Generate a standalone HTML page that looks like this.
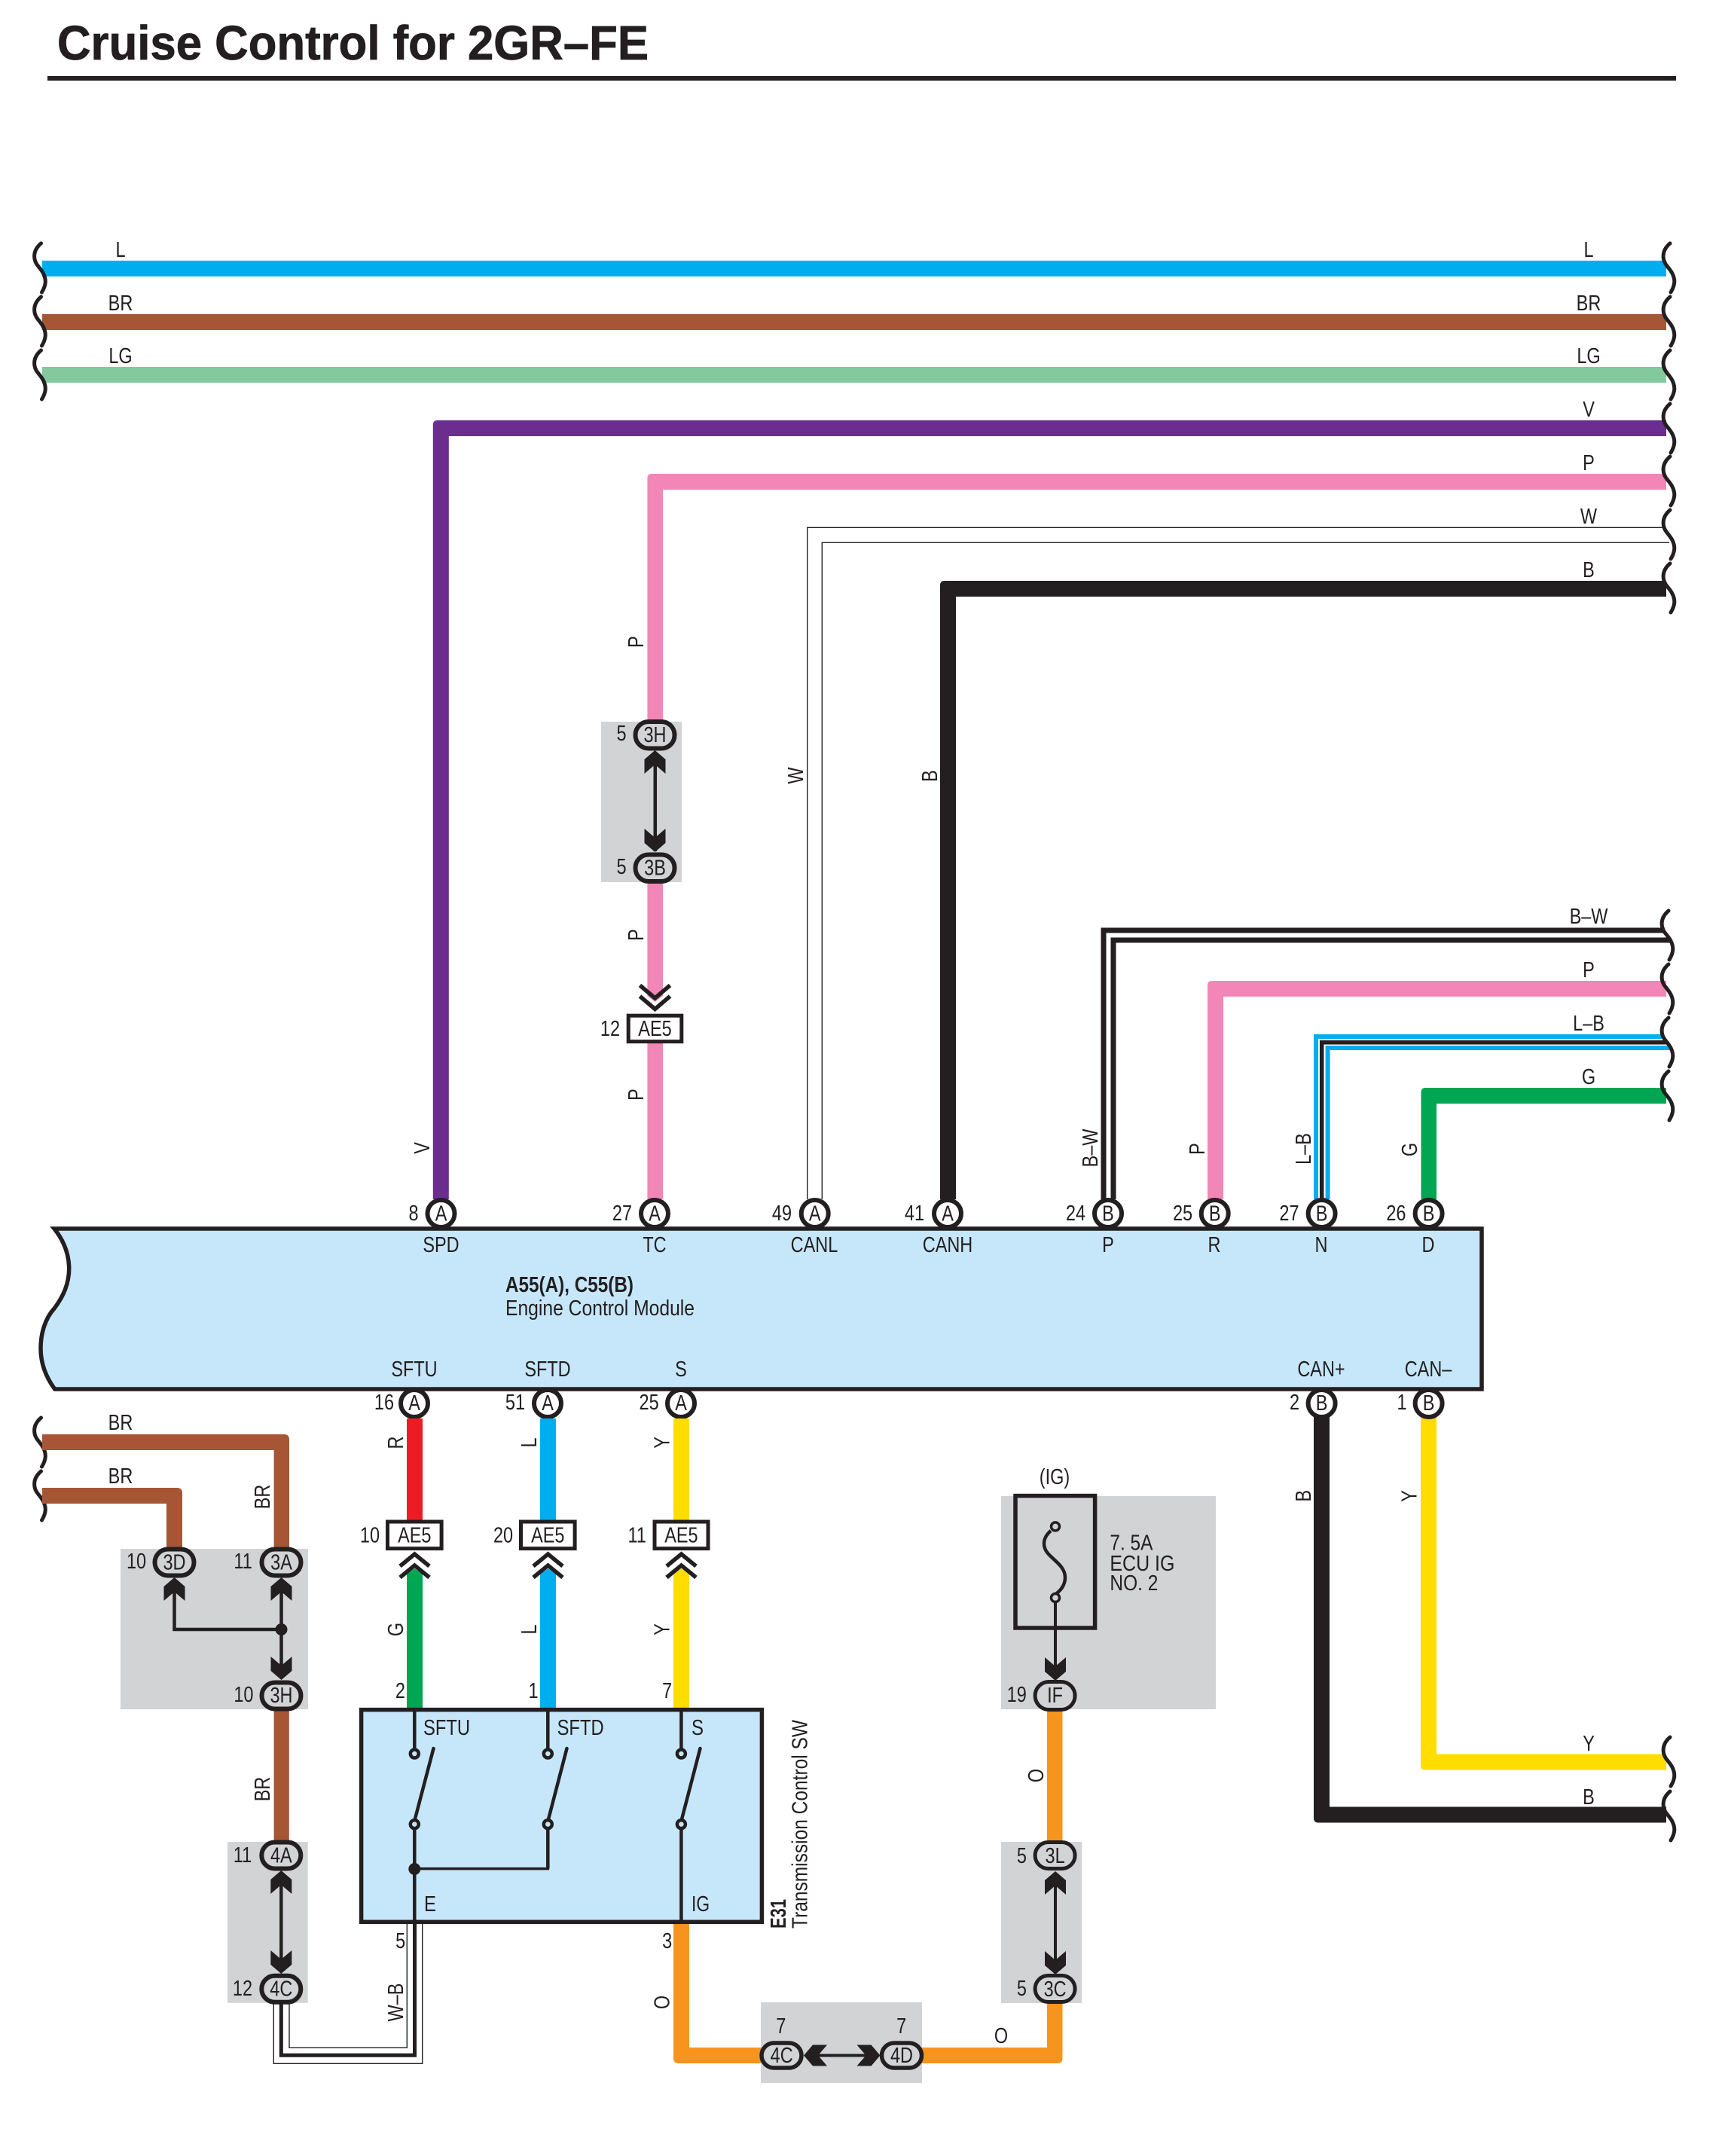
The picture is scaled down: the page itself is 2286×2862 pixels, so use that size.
<!DOCTYPE html>
<html><head><meta charset="utf-8"><title>Cruise Control for 2GR–FE</title>
<style>
html,body{margin:0;padding:0;background:#fff}
svg{display:block}
text{font-family:"Liberation Sans",sans-serif;font-size:29px;fill:#231f20;text-anchor:middle;transform-box:fill-box;transform-origin:center;transform:scaleX(.81)}
text.f{text-anchor:start;transform:none}
.o{fill:#d1d3d4;stroke:#231f20;stroke-width:6}
.c{fill:#fff;stroke:#231f20;stroke-width:6}
.r{fill:#fff;stroke:#231f20;stroke-width:5}
.ch{fill:none;stroke:#231f20;stroke-width:5.5}
.sq{fill:none;stroke:#231f20;stroke-width:5;stroke-linecap:round}
.ln{fill:none;stroke:#231f20}
.g{fill:#d1d3d4}
.ct{fill:#c6e7fa;stroke:#231f20;stroke-width:4.5}
</style></head><body>
<svg width="2286" height="2862" viewBox="0 0 2286 2862" xmlns="http://www.w3.org/2000/svg">
<defs>
<path id="s" d="M0 1C-7 7-10 14-8.5 22C-7 30-1 33 3 41C7 49 7 56 1 66"/>
<polygon id="a" points="0,0 14,12 14,31 0,19 -14,31 -14,12" fill="#231f20"/>
</defs>
<rect width="2286" height="2862" fill="#fff"/>

<!-- title -->
<text class="f" x="76" y="79" style="font-size:64px;font-weight:bold;stroke:#231f20;stroke-width:.8" textLength="785" lengthAdjust="spacingAndGlyphs">Cruise Control for 2GR–FE</text>
<rect x="63" y="101" width="2162" height="6" fill="#231f20"/>

<!-- top wires -->
<rect x="56" y="346" width="2156" height="21" fill="#00aeef"/>
<rect x="56" y="417" width="2156" height="21" fill="#a65535"/>
<rect x="56" y="487" width="2156" height="21" fill="#82c99d"/>
<path fill="#6c2d91" d="M574.8 1592V564Q574.8 558 580.8 558H2212V579H595.8V1592Z"/>
<path fill="#f287b7" d="M859.4 1322V635Q859.4 629 865.4 629H2212V650H880V1322L869.7 1330Z"/>
<rect x="859.4" y="1385" width="20.6" height="207" fill="#f287b7"/>
<path class="ln" stroke-width="1.4" d="M1071.7 1592V700.3H2207M1091.3 1592V720.3H2216"/>
<path fill="#231f20" d="M1248 1592V777Q1248 771 1254 771H2212V792H1269V1592Z"/>
<path class="ln" stroke-width="7" d="M1465 1592V1235H2210M1478 1592V1248H2217"/>
<path fill="#f287b7" d="M1603 1592V1308Q1603 1302 1609 1302H2212V1323H1624V1592Z"/>
<path fill="none" stroke="#00aeef" stroke-width="6" d="M1747 1592V1376H2209M1762.6 1592V1391H2216"/>
<path class="ln" stroke-width="5.5" d="M1754.7 1592V1383.7H2214"/>
<path fill="#00a651" d="M1886.5 1592V1450Q1886.5 1444 1892.5 1444H2212V1465H1907V1592Z"/>
<path fill="#231f20" d="M1744 1880V2413.5Q1744 2419.5 1750 2419.5H2212V2398.5H1765V1880Z"/>
<path fill="#ffdd00" d="M1886 1880V2343.5Q1886 2349.5 1892 2349.5H2212V2328.5H1907V1880Z"/>

<!-- squiggles left -->
<use href="#s" class="sq" x="54.5" y="322"/><use href="#s" class="sq" x="54.5" y="393"/><use href="#s" class="sq" x="54.5" y="464"/>
<use href="#s" class="sq" x="54.5" y="1881"/><use href="#s" class="sq" x="54.5" y="1952"/>
<!-- squiggles right -->
<use href="#s" class="sq" x="2217" y="322"/><use href="#s" class="sq" x="2217" y="393"/><use href="#s" class="sq" x="2217" y="464"/><use href="#s" class="sq" x="2217" y="535"/><use href="#s" class="sq" x="2217" y="605"/><use href="#s" class="sq" x="2217" y="676"/><use href="#s" class="sq" x="2217" y="747"/>
<use href="#s" class="sq" x="2215" y="1208"/><use href="#s" class="sq" x="2215" y="1279"/><use href="#s" class="sq" x="2215" y="1350"/><use href="#s" class="sq" x="2215" y="1421"/>
<use href="#s" class="sq" x="2217" y="2305"/><use href="#s" class="sq" x="2217" y="2377"/>

<!-- top wire labels -->
<text x="160" y="341">L</text><text x="160" y="412">BR</text><text x="160" y="482">LG</text>
<text x="2109" y="341">L</text><text x="2109" y="412">BR</text><text x="2109" y="482">LG</text>
<text x="2109" y="553">V</text><text x="2109" y="624">P</text><text x="2109" y="695">W</text><text x="2109" y="766">B</text>
<text x="2109" y="1226">B–W</text><text x="2109" y="1297">P</text><text x="2109" y="1368">L–B</text><text x="2109" y="1439">G</text>
<text x="2109" y="2324">Y</text><text x="2109" y="2395">B</text>

<!-- rotated labels upper -->
<g transform="translate(570,1524) rotate(-90)"><text>V</text></g>
<g transform="translate(854,852) rotate(-90)"><text>P</text></g>
<g transform="translate(854,1241) rotate(-90)"><text>P</text></g>
<g transform="translate(854,1453) rotate(-90)"><text>P</text></g>
<g transform="translate(1066,1029.5) rotate(-90)"><text>W</text></g>
<g transform="translate(1244,1030) rotate(-90)"><text>B</text></g>
<g transform="translate(1457,1524) rotate(-90)"><text>B–W</text></g>
<g transform="translate(1599,1525) rotate(-90)"><text>P</text></g>
<g transform="translate(1740,1525) rotate(-90)"><text>L–B</text></g>
<g transform="translate(1881,1526) rotate(-90)"><text>G</text></g>

<!-- 3H/3B splice -->
<rect class="g" x="798" y="958" width="107" height="213"/>
<rect x="867.5" y="1000" width="4.5" height="130" style="fill:#231f20"/>
<use href="#a" x="869.5" y="996"/>
<use href="#a" transform="translate(869.5,1131) scale(1,-1)"/>
<rect class="o" x="843.5" y="958" width="52" height="35.5" rx="17.5"/>
<rect class="o" x="843.5" y="1134.5" width="52" height="35.5" rx="17.5"/>
<text x="869.5" y="985">3H</text><text x="869.5" y="1161.5">3B</text>
<text x="825" y="983">5</text><text x="825" y="1160">5</text>
<!-- AE5 upper -->
<path class="ch" d="M849.5 1308L869.5 1325L889.5 1308M849.5 1322.5L869.5 1339.5L889.5 1322.5"/>
<rect class="r" x="834.2" y="1348.2" width="70.6" height="34.4"/>
<text x="869.5" y="1375">AE5</text><text x="810" y="1375">12</text>

<!-- ECM -->
<path fill="#c6e7fa" stroke="#231f20" stroke-width="5.5" stroke-linejoin="miter" d="M72 1631C84 1646 91 1662 91.7 1682C92 1704 84 1721 72 1737C60 1750 54 1770 54 1790C54 1810 61 1828 72.7 1844H1967V1631Z"/>
<circle class="c" cx="585.5" cy="1611" r="18"/><circle class="c" cx="869" cy="1611" r="18"/><circle class="c" cx="1081.7" cy="1611" r="18"/><circle class="c" cx="1258" cy="1611" r="18"/>
<circle class="c" cx="1471" cy="1611" r="18"/><circle class="c" cx="1612.7" cy="1611" r="18"/><circle class="c" cx="1754.6" cy="1611" r="18"/><circle class="c" cx="1896.6" cy="1611" r="18"/>
<circle class="c" cx="550" cy="1863" r="18"/><circle class="c" cx="727" cy="1863" r="18"/><circle class="c" cx="904" cy="1863" r="18"/><circle class="c" cx="1754.6" cy="1863" r="18"/><circle class="c" cx="1896.6" cy="1863" r="18"/>
<text x="585.5" y="1620.5">A</text><text x="869" y="1620.5">A</text><text x="1081.7" y="1620.5">A</text><text x="1258" y="1620.5">A</text>
<text x="1471" y="1620.5">B</text><text x="1612.7" y="1620.5">B</text><text x="1754.6" y="1620.5">B</text><text x="1896.6" y="1620.5">B</text>
<text x="550" y="1872">A</text><text x="727" y="1872">A</text><text x="904" y="1872">A</text><text x="1754.6" y="1872">B</text><text x="1896.6" y="1872">B</text>
<text x="549" y="1620">8</text><text x="826" y="1620">27</text><text x="1038" y="1620">49</text><text x="1214" y="1620">41</text>
<text x="1428" y="1620">24</text><text x="1570" y="1620">25</text><text x="1711.5" y="1620">27</text><text x="1853.4" y="1620">26</text>
<text x="510" y="1871">16</text><text x="684" y="1871">51</text><text x="861.6" y="1871">25</text><text x="1718.6" y="1871">2</text><text x="1861" y="1871">1</text>
<text x="585.5" y="1662">SPD</text><text x="869" y="1662">TC</text><text x="1081" y="1662">CANL</text><text x="1258" y="1662">CANH</text>
<text x="1471" y="1662">P</text><text x="1612" y="1662">R</text><text x="1754" y="1662">N</text><text x="1896" y="1662">D</text>
<text x="550" y="1827">SFTU</text><text x="727" y="1827">SFTD</text><text x="904" y="1827">S</text><text x="1754" y="1827">CAN+</text><text x="1896" y="1827">CAN–</text>
<text class="f" x="671" y="1715" style="font-weight:bold" textLength="170" lengthAdjust="spacingAndGlyphs">A55(A), C55(B)</text>
<text class="f" x="671" y="1746" textLength="251" lengthAdjust="spacingAndGlyphs">Engine Control Module</text>

<!-- lower wires -->
<path fill="#a65535" d="M56 1904H377Q384 1904 384 1911V2056H363.6V1925H56Z"/>
<path fill="#a65535" d="M56 1975H235Q242 1975 242 1982V2056H221V1996H56Z"/>
<rect x="363.6" y="2268" width="20.2" height="178" fill="#a65535"/>
<rect x="540" y="1883" width="21" height="135" fill="#ed1c24"/>
<path fill="#00a651" d="M540 2090L550.4 2082L561 2090V2267H540Z"/>
<rect x="717" y="1883" width="21" height="135" fill="#00aeef"/>
<path fill="#00aeef" d="M717 2090L727.5 2082L738 2090V2267H717Z"/>
<rect x="894" y="1883" width="21" height="135" fill="#ffdd00"/>
<path fill="#ffdd00" d="M894 2090L904.5 2082L915 2090V2267H894Z"/>
<path fill="#f7941d" d="M894 2553V2732Q894 2739 901 2739H1012V2718H915V2553Z"/>
<path fill="#f7941d" d="M1224 2718H1390V2658H1410.5V2732Q1410.5 2739 1403.5 2739H1224Z"/>
<rect x="1390" y="2270" width="20.5" height="176" fill="#f7941d"/>

<!-- W-B -->
<path class="ln" stroke-width="1.4" d="M363.3 2658V2739.3H560.7V2553M384 2658V2718.3H540.3V2553"/>
<path class="ln" stroke-width="5" d="M373.3 2658V2728.3H550.5V2553"/>

<!-- 3D/3A/3H -->
<rect class="g" x="160" y="2056" width="249" height="213"/>
<path class="ln" stroke-width="4.5" d="M231.5 2110V2163H373.5M373.5 2100V2225"/>
<circle cx="373.5" cy="2163" r="8" fill="#231f20"/>
<use href="#a" x="231.5" y="2094"/><use href="#a" x="373.5" y="2094"/>
<use href="#a" transform="translate(373.5,2230) scale(1,-1)"/>
<rect class="o" x="205.5" y="2056.5" width="52" height="35" rx="17.5"/>
<rect class="o" x="347.5" y="2056.5" width="52" height="35" rx="17.5"/>
<rect class="o" x="347.5" y="2233.5" width="52" height="35" rx="17.5"/>
<text x="231.5" y="2083.5">3D</text><text x="373.5" y="2083.5">3A</text><text x="373.5" y="2260">3H</text>
<text x="181" y="2082">10</text><text x="322.6" y="2082">11</text><text x="323.4" y="2259">10</text>
<text x="160" y="1898">BR</text><text x="160" y="1969">BR</text>
<g transform="translate(358,1987) rotate(-90)"><text>BR</text></g>
<g transform="translate(358,2375) rotate(-90)"><text>BR</text></g>

<!-- 4A/4C -->
<rect class="g" x="302" y="2445" width="106.7" height="213.7"/>
<path class="ln" stroke-width="4.5" d="M373.3 2490V2615"/>
<use href="#a" x="373.3" y="2483"/>
<use href="#a" transform="translate(373.3,2620) scale(1,-1)"/>
<rect class="o" x="347.3" y="2445.5" width="52" height="35" rx="17.5"/>
<rect class="o" x="347.3" y="2622.8" width="52" height="35" rx="17.5"/>
<text x="373.3" y="2472.5">4A</text><text x="373.3" y="2649.5">4C</text>
<text x="322" y="2472">11</text><text x="322" y="2649">12</text>

<!-- AE5 lower -->
<rect class="r" x="514.5" y="2020" width="71.6" height="35.6"/>
<rect class="r" x="691.5" y="2020" width="71.6" height="35.6"/>
<rect class="r" x="869" y="2020" width="71" height="35.6"/>
<text x="550.3" y="2047.5">AE5</text><text x="727.3" y="2047.5">AE5</text><text x="904.4" y="2047.5">AE5</text>
<text x="491" y="2047.5">10</text><text x="668" y="2047.5">20</text><text x="845.7" y="2047.5">11</text>
<path class="ch" d="M531 2079L550.4 2063L570 2079M531 2094L550.4 2078L570 2094"/>
<path class="ch" d="M708 2079L727.5 2063L747 2079M708 2094L727.5 2078L747 2094"/>
<path class="ch" d="M885 2079L904.5 2063L924 2079M885 2094L904.5 2078L924 2094"/>
<g transform="translate(534.8,1915) rotate(-90)"><text>R</text></g>
<g transform="translate(712,1915) rotate(-90)"><text>L</text></g>
<g transform="translate(888.6,1915) rotate(-90)"><text>Y</text></g>
<g transform="translate(534.8,2163) rotate(-90)"><text>G</text></g>
<g transform="translate(712,2163) rotate(-90)"><text>L</text></g>
<g transform="translate(888.6,2163) rotate(-90)"><text>Y</text></g>
<text x="531.4" y="2254">2</text><text x="708" y="2254">1</text><text x="885.7" y="2254">7</text>
<g transform="translate(1740,1985.7) rotate(-90)"><text>B</text></g>
<g transform="translate(1880.7,1986) rotate(-90)"><text>Y</text></g>

<!-- switch box -->
<rect x="479.6" y="2269.6" width="531.8" height="281.7" fill="#c6e7fa" stroke="#231f20" stroke-width="5.5"/>
<path class="ln" stroke-width="4.5" d="M550.3 2270V2323M727.3 2270V2323M904.4 2270V2323M550.3 2426V2551M904.4 2426V2551M727.3 2426V2480.6"/>
<path class="ln" stroke-width="3.5" d="M550.3 2480.6H729"/>
<circle cx="550.3" cy="2481" r="8" fill="#231f20"/>
<path class="ln" stroke-width="4.5" stroke-linecap="round" d="M550.3 2417L575.5 2321M727.5 2417L752.5 2321M904.5 2417L929.5 2321"/>
<circle class="ct" cx="550.3" cy="2328" r="5.5"/><circle class="ct" cx="727.3" cy="2328" r="5.5"/><circle class="ct" cx="904.4" cy="2328" r="5.5"/>
<circle class="ct" cx="550.3" cy="2421.6" r="5.5"/><circle class="ct" cx="727.3" cy="2421.6" r="5.5"/><circle class="ct" cx="904.4" cy="2421.6" r="5.5"/>
<text class="f" x="562" y="2303" textLength="62" lengthAdjust="spacingAndGlyphs">SFTU</text>
<text class="f" x="739.6" y="2303" textLength="62" lengthAdjust="spacingAndGlyphs">SFTD</text>
<text class="f" x="918" y="2303" textLength="16" lengthAdjust="spacingAndGlyphs">S</text>
<text class="f" x="563" y="2537" textLength="16" lengthAdjust="spacingAndGlyphs">E</text>
<text class="f" x="918" y="2537" textLength="24" lengthAdjust="spacingAndGlyphs">IG</text>
<g transform="translate(1043,2560) rotate(-90)"><text class="f" style="font-weight:bold" textLength="39" lengthAdjust="spacingAndGlyphs">E31</text></g>
<g transform="translate(1071.6,2560) rotate(-90)"><text class="f" textLength="277" lengthAdjust="spacingAndGlyphs">Transmission Control SW</text></g>
<text x="531.7" y="2586">5</text><text x="885.7" y="2586">3</text>
<g transform="translate(535,2658) rotate(-90)"><text>W–B</text></g>
<g transform="translate(888.6,2658) rotate(-90)"><text>O</text></g>

<!-- 4C/4D -->
<rect class="g" x="1010" y="2658" width="214" height="107"/>
<path class="ln" stroke-width="4" d="M1075 2728.5H1160"/>
<use href="#a" transform="translate(1067,2728.5) rotate(-90)"/>
<use href="#a" transform="translate(1168.5,2728.5) rotate(90)"/>
<rect class="o" x="1011" y="2712" width="53" height="33" rx="16.5" style="stroke-width:5.5"/>
<rect class="o" x="1170.5" y="2712" width="53" height="33" rx="16.5" style="stroke-width:5.5"/>
<text x="1037.7" y="2738">4C</text><text x="1197" y="2738">4D</text>
<text x="1036.8" y="2699">7</text><text x="1196.6" y="2699">7</text>
<text x="1329" y="2712">O</text>

<!-- fuse -->
<rect class="g" x="1329" y="1986" width="285" height="283"/>
<rect x="1348" y="1985.6" width="105.6" height="175.4" fill="none" stroke="#231f20" stroke-width="5.5"/>
<path class="ln" stroke-width="4.5" d="M1395 2032C1388 2038 1384 2046 1387 2055C1391 2068 1414 2076 1414 2094C1414 2104 1408 2112 1400 2117"/>
<circle cx="1401" cy="2026.4" r="5.5" class="ct" style="fill:#d1d3d4;stroke-width:3.5"/>
<circle cx="1401" cy="2121" r="5.5" class="ct" style="fill:#d1d3d4;stroke-width:3.5"/>
<path class="ln" stroke-width="4" d="M1401 2126V2215"/>
<use href="#a" transform="translate(1401,2231) scale(1,-1)"/>
<rect class="o" x="1374.1" y="2232.5" width="53" height="37" rx="18.5" style="stroke-width:5"/>
<text x="1400.6" y="2260">IF</text><text x="1349.7" y="2259">19</text>
<text x="1400" y="1970">(IG)</text>
<text class="f" x="1473.4" y="2057.4" textLength="57" lengthAdjust="spacingAndGlyphs">7. 5A</text>
<text class="f" x="1473.4" y="2085" textLength="86" lengthAdjust="spacingAndGlyphs">ECU IG</text>
<text class="f" x="1473.4" y="2111" textLength="64" lengthAdjust="spacingAndGlyphs">NO. 2</text>
<g transform="translate(1385,2357) rotate(-90)"><text>O</text></g>

<!-- 3L/3C -->
<rect class="g" x="1329" y="2445" width="107.3" height="214"/>
<path class="ln" stroke-width="4" d="M1401 2495V2610"/>
<use href="#a" x="1401" y="2484"/>
<use href="#a" transform="translate(1401,2621) scale(1,-1)"/>
<rect class="o" x="1374.1" y="2445.5" width="53" height="35" rx="17.5" style="stroke-width:5"/>
<rect class="o" x="1374.1" y="2622.5" width="53" height="35" rx="17.5" style="stroke-width:5"/>
<text x="1400.6" y="2473">3L</text><text x="1400.6" y="2650">3C</text>
<text x="1356.4" y="2473">5</text><text x="1356.4" y="2649">5</text>
</svg>
</body></html>
